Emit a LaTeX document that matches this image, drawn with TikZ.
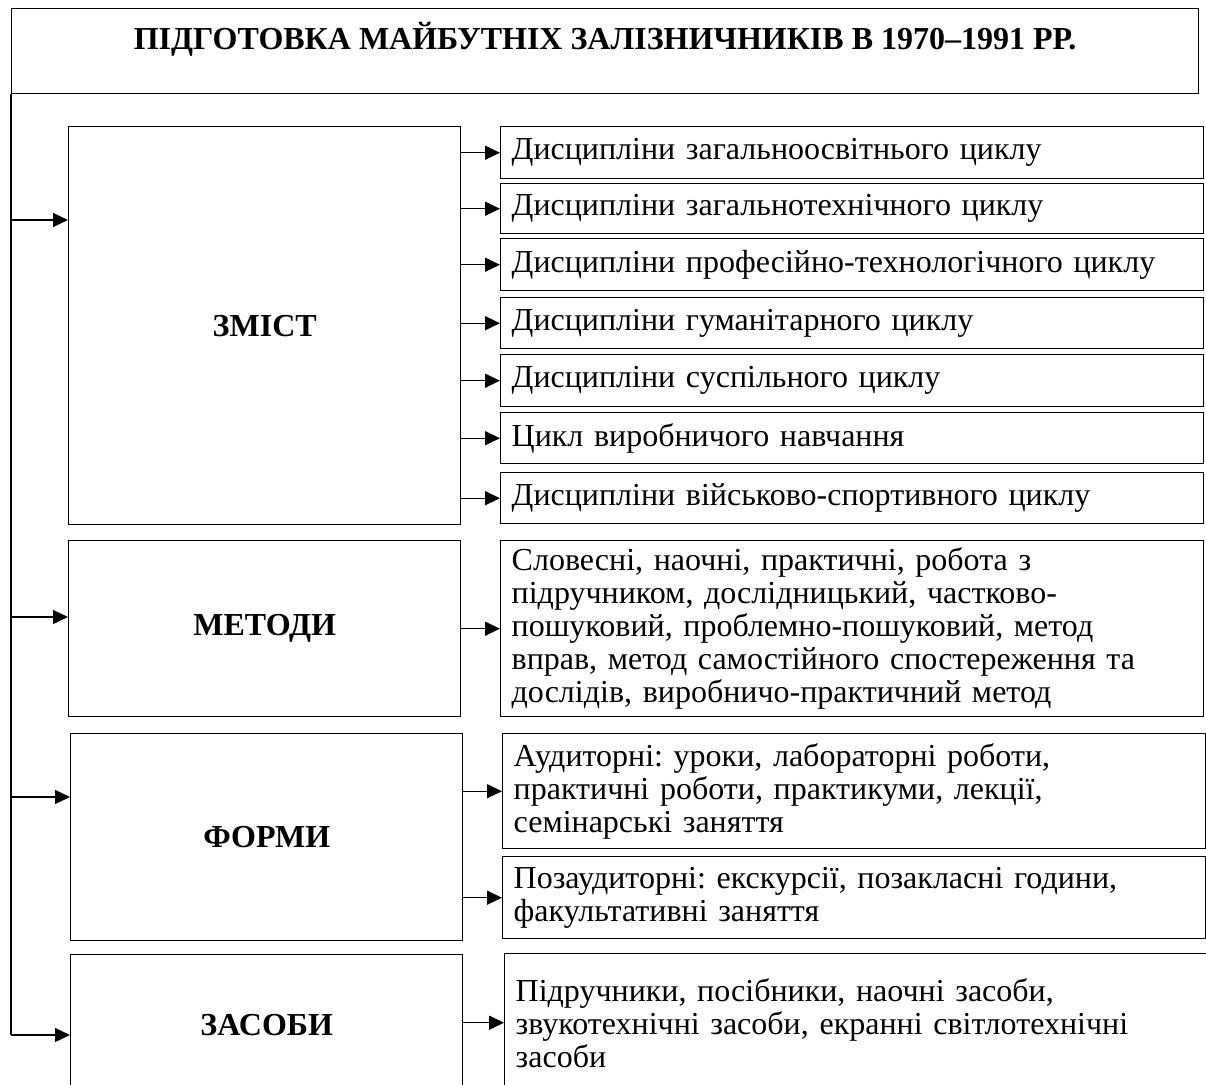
\documentclass[tikz,border=0pt]{standalone}
\usepackage{fontspec}
\setmainfont{Liberation Serif}
\frenchspacing
\usetikzlibrary{arrows.meta}

\tikzset{
	kasten/.style={draw, line width=1.4pt, anchor=north west, inner sep=0pt},
	links/.style={kasten, font=\bfseries\fontsize{32}{35}\selectfont, minimum width=392pt},
	rechts/.style={kasten, font=\fontsize{32}{33}\selectfont, align=left, inner xsep=11pt, text width=681pt},
	pfeil/.style={line width=1.4pt, -{Triangle[length=15pt,width=14pt]}}
}

\begin{document}
\begin{tikzpicture}[x=1pt,y=-1pt]
					\useasboundingbox (0,0) rectangle (1206,1084);
					%Titel
					\node[kasten, minimum width=1187pt, minimum height=85pt] (titel) at (11,8) {};
					\node[font=\bfseries\fontsize{32}{35}\selectfont] (titeltext) at (605,39) {ПІДГОТОВКА МАЙБУТНІХ ЗАЛІЗНИЧНИКІВ В 1970–1991 РР.};
					%Kaesten links
					\node[links, minimum height=398pt] (zmist) at (68,126) {ЗМІСТ};
					\node[links, minimum height=176pt] (metody) at (68,540) {МЕТОДИ};
					\node[links, minimum height=207pt] (formy) at (70,733) {ФОРМИ};
					\node[links, minimum height=140pt] (zasoby) at (70,954) {ЗАСОБИ};
					%Kaesten rechts
					\node[rechts, minimum height=52pt] (r1) at (500,126) {Дисципліни загальноосвітнього циклу};
					\node[rechts, minimum height=50pt] (r2) at (500,183) {Дисципліни загальнотехнічного циклу};
					\node[rechts, minimum height=52pt] (r3) at (500,238) {Дисципліни професійно-технологічного циклу};
					\node[rechts, minimum height=51pt] (r4) at (500,297) {Дисципліни гуманітарного циклу};
					\node[rechts, minimum height=52pt] (r5) at (500,354) {Дисципліни суспільного циклу};
					\node[rechts, minimum height=51pt] (r6) at (500,412) {Цикл виробничого навчання};
					\node[rechts, minimum height=51pt] (r7) at (500,472) {Дисципліни військово-спортивного циклу};
					\node[rechts, minimum height=176pt] (metodyR) at (500,540) {Словесні, наочні, практичні, робота з\\підручником, дослідницький, частково-\\пошуковий, проблемно-пошуковий, метод\\вправ, метод самостійного спостереження та\\дослідів, виробничо-практичний метод};
					\node[rechts, minimum height=115pt] (formyA) at (502,733) {Аудиторні: уроки, лабораторні роботи,\\практичні роботи, практикуми, лекції,\\семінарські заняття};
					\node[rechts, minimum height=82pt] (formyB) at (502,856) {Позаудиторні: екскурсії, позакласні години,\\факультативні заняття};
					\node[rechts, minimum height=138pt] (zasobyR) at (504,953) {Підручники, посібники, наочні засоби,\\звукотехнічні засоби, екранні світлотехнічні\\засоби};
					%Linie links
					\coordinate (b1) at (11,220);
					\coordinate (b2) at (11,617);
					\coordinate (b3) at (11,797);
					\coordinate (b4) at (11,1035);
					\draw[line width=1.4pt] (titel.south west) -- (b4);
					\draw[pfeil] (b1) -- (b1 -| zmist.west);
					\draw[pfeil] (b2) -- (b2 -| metody.west);
					\draw[pfeil] (b3) -- (b3 -| formy.west);
					\draw[pfeil] (b4) -- (b4 -| zasoby.west);
					%Pfeile rechts
					\foreach \r in {r1,r2,r3,r4,r5,r6,r7}
						\draw[pfeil] (\r.west -| zmist.east) -- (\r.west);
					\draw[pfeil] (metodyR.west -| metody.east) -- (metodyR.west);
					\draw[pfeil] (formyA.west -| formy.east) -- (formyA.west);
					\draw[pfeil] (formyB.west -| formy.east) -- (formyB.west);
					\draw[pfeil] (zasobyR.west -| zasoby.east) -- (zasobyR.west);
				\end{tikzpicture}
\end{document}
